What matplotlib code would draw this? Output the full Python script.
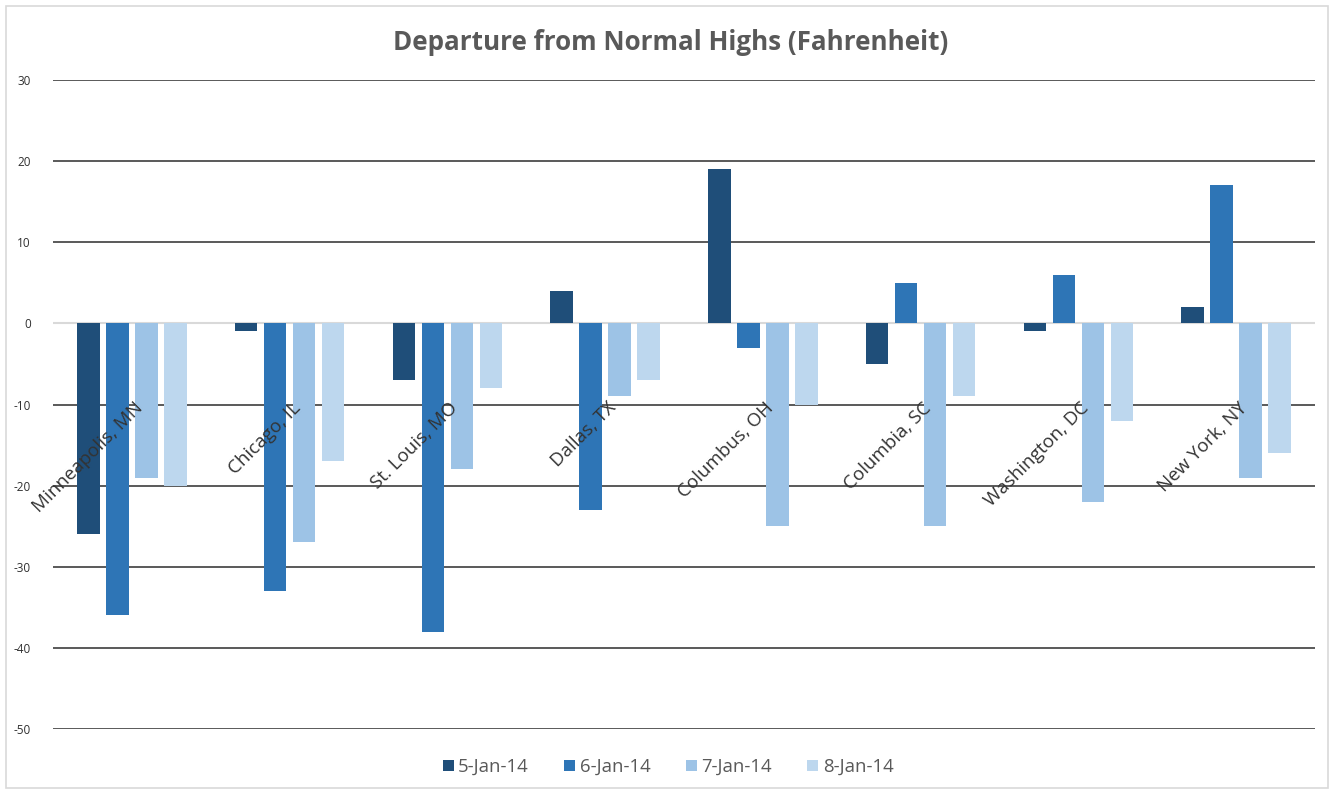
import numpy as np
import matplotlib.pyplot as plt
from matplotlib.patches import Rectangle

cities = ["Minneapolis, MN", "Chicago, IL", "St. Louis, MO", "Dallas, TX",
          "Columbus, OH", "Columbia, SC", "Washington, DC", "New York, NY"]
dates = ["5-Jan-14", "6-Jan-14", "7-Jan-14", "8-Jan-14"]
jan5 = [-26, -1, -7, 4, 19, -5, -1, 2]
jan6 = [-36, -33, -38, -23, -3, 5, 6, 17]
jan7 = [-19, -27, -18, -9, -25, -25, -22, -19]
jan8 = [-20, -17, -8, -7, -10, -9, -12, -16]
yticks = [30, 20, 10, 0, -10, -20, -30, -40, -50]

colors = ["#1F4E79", "#2E75B6", "#9DC3E6", "#BDD7EE"]
txt = "#595959"

plt.rcParams['font.family'] = ['Open Sans', 'DejaVu Sans']

fig = plt.figure(figsize=(13.36, 7.94), dpi=100)
ax = fig.add_axes([53/1336, 1-729/794, (1315-53)/1336, (729-80)/794])

# chart border
fig.patches.append(Rectangle((6/1336, 6/794), 1322/1336, 782/794, transform=fig.transFigure,
                             fill=False, edgecolor="#D9D9D9", lw=1.2))

x = np.arange(len(cities))
step = 0.184
width = 0.142
series = [jan5, jan6, jan7, jan8]
for k, (vals, lab) in enumerate(zip(series, dates)):
    ax.bar(x + (k - 1.5) * step, vals, width, color=colors[k], label=lab, zorder=3)

ax.set_xlim(-0.5, len(cities) - 0.5)
ax.set_ylim(-50, 30)
ax.set_yticks(yticks)
ax.set_yticklabels([str(v) for v in yticks], fontsize=8.5, color="#303030")
ax.tick_params(axis='y', length=0, pad=16)
ax.set_xticks([])
for v in yticks:
    if v == 0:
        ax.axhline(v, color="#D9D9D9", lw=1.5, zorder=2)
    else:
        ax.axhline(v, color="#595959", lw=1.4, zorder=1)
for s in ax.spines.values():
    s.set_visible(False)

for i, c in enumerate(cities):
    ax.text(i + 0.01, -9.3, c, rotation=45, rotation_mode='anchor', ha='right', va='top',
            fontsize=13.5, color="#333333", zorder=4)

fig.text(0.502, 1-42/794, "Departure from Normal Highs (Fahrenheit)", ha='center', va='center',
         fontsize=18.7, fontweight='bold', color=txt)

leg = fig.legend(loc='center', bbox_to_anchor=(0.5, 1-767/794), ncol=4, frameon=False,
                 fontsize=13.3, handlelength=0.6, handleheight=0.6, handletextpad=0.25,
                 columnspacing=1.9, labelcolor=txt)

fig.savefig("out.png", dpi=100)
